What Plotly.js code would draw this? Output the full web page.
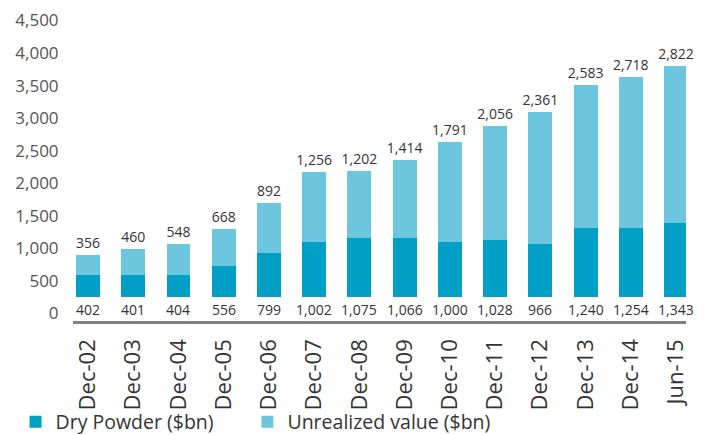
<!DOCTYPE html>
<html><head><meta charset="utf-8">
<script src="https://cdn.plot.ly/plotly-3.0.1.min.js"></script>
<style>html,body{margin:0;padding:0;background:#fff}#chart{width:707px;height:435px}</style>
</head><body><div id="chart"></div>
<script>
const categories = ['Dec-02','Dec-03','Dec-04','Dec-05','Dec-06','Dec-07','Dec-08','Dec-09','Dec-10','Dec-11','Dec-12','Dec-13','Dec-14','Jun-15'];
const dryPowder = [402,401,404,556,799,1002,1075,1066,1000,1028,966,1240,1254,1343];
const unrealized = [356,460,548,668,892,1256,1202,1414,1791,2056,2361,2583,2718,2822];
const yTickLabels = [0,500,1000,1500,2000,2500,3000,3500,4000,4500];

// In the source image the printed axis scale is not registered with the bars:
// label value L sits where the bars reach AXIS_ZERO + L * AXIS_RATIO.
const AXIS_ZERO = -288;
const AXIS_RATIO = 1.171;

const fmt = v => v.toLocaleString('en-US');
const FONT = '"Open Sans", "Noto Sans", sans-serif';
const DARK = '#00A0C6';
const LIGHT = '#6CC6DE';

const traces = [
  {
    type: 'bar', name: 'Dry Powder ($bn)', x: categories, y: dryPowder,
    marker: {color: DARK}, hoverinfo: 'x+y', legend: 'legend'
  },
  {
    type: 'bar', name: 'Unrealized value ($bn)', x: categories, y: unrealized,
    marker: {color: LIGHT},
    text: unrealized.map(fmt), texttemplate: '%{text}', textposition: 'outside',
    constraintext: 'none',
    textfont: {family: FONT, size: 14, color: '#333'}, cliponaxis: false, hoverinfo: 'x+y',
    legend: 'legend2'
  }
];

const dryLabels = categories.map((c, i) => ({
  x: c, y: 0, xref: 'x', yref: 'y', text: fmt(dryPowder[i]), showarrow: false,
  yanchor: 'top', xanchor: 'center', yshift: -1,
  font: {family: FONT, size: 14, color: '#333'}
}));

const legendBase = {
  orientation: 'h', xref: 'container', yref: 'container', xanchor: 'left',
  y: 0.03, yanchor: 'middle', font: {family: FONT, size: 19.5, color: '#333'},
  bgcolor: 'rgba(0,0,0,0)'
};

const layout = {
  width: 707, height: 435,
  margin: {l: 73, r: 21, t: 15, b: 114.3, pad: 0},
  paper_bgcolor: '#fff', plot_bgcolor: '#fff',
  barmode: 'stack', bargap: 0.47,
  font: {family: FONT, color: '#333'},
  showlegend: true,
  annotations: dryLabels,
  xaxis: {
    type: 'category', range: [-0.332, 13.22],
    tickmode: 'array', tickvals: categories, ticktext: categories,
    showline: true, linecolor: '#808080', linewidth: 2.5,
    showgrid: false, zeroline: false, ticks: 'outside', ticklen: 7, tickcolor: 'rgba(0,0,0,0)',
    tickangle: -90, tickfont: {family: FONT, size: 22, color: '#333'}
  },
  yaxis: {
    type: 'linear', range: [-427, 5081],
    tickmode: 'array',
    tickvals: yTickLabels.map(L => AXIS_ZERO + L * AXIS_RATIO),
    ticktext: yTickLabels.map(fmt),
    showgrid: false, zeroline: false, showline: false,
    ticks: 'outside', ticklen: 10, tickcolor: 'rgba(0,0,0,0)',
    tickfont: {family: FONT, size: 17, color: '#555'}
  },
  legend: Object.assign({}, legendBase, {x: 0.022}),
  legend2: Object.assign({}, legendBase, {x: 0.35})
};

Plotly.newPlot('chart', traces, layout, {staticPlot: true, displayModeBar: false});
</script>
</body></html>
